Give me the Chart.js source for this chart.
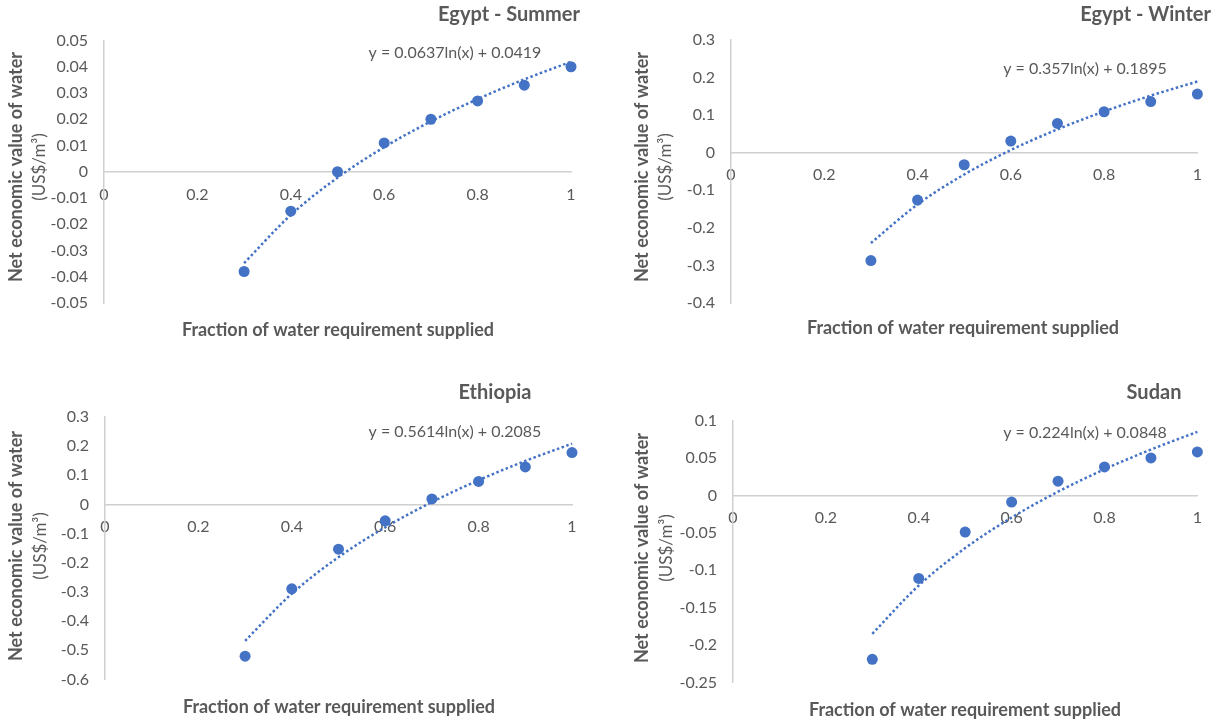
<!DOCTYPE html>
<html>
<head>
<meta charset="utf-8">
<script src="https://cdn.jsdelivr.net/npm/chart.js@4.4.1/dist/chart.umd.min.js"></script>
<style>
  html, body { margin: 0; padding: 0; background: #ffffff; }
  #wrap { position: relative; width: 1215px; height: 719px; overflow: hidden; }
  #wrap canvas { position: absolute; left: 0; top: 0; }
</style>
</head>
<body>
<div id="wrap">
  <canvas id="p0" width="1215" height="719"></canvas>
  <canvas id="p1" width="1215" height="719"></canvas>
  <canvas id="p2" width="1215" height="719"></canvas>
  <canvas id="p3" width="1215" height="719"></canvas>
</div>
<script>
// Fraction of the water requirement supplied (x values shared by all panels)
const fractions = [0.3, 0.4, 0.5, 0.6, 0.7, 0.8, 0.9, 1.0];

// Net economic value of water, US$/m3
const egyptSummer = [-0.038, -0.015, 0.000, 0.011, 0.020, 0.027, 0.033, 0.040];
const egyptWinter = [-0.287, -0.126, -0.032, 0.031, 0.078, 0.109, 0.136, 0.156];
const ethiopia    = [-0.520, -0.289, -0.153, -0.056, 0.019, 0.079, 0.129, 0.178];
const sudan       = [-0.219, -0.111, -0.049, -0.009, 0.019, 0.038, 0.050, 0.058];

// Logarithmic trend lines: y = slope * ln(x) + intercept
const trendSlope     = [0.0637, 0.357, 0.5614, 0.224];
const trendIntercept = [0.0419, 0.1895, 0.2085, 0.0848];

// Panel titles and y-axis tick ranges
const panelTitles = ['Egypt - Summer', 'Egypt - Winter', 'Ethiopia', 'Sudan'];
const yMin  = [-0.05, -0.4, -0.6, -0.25];
const yMax  = [0.05, 0.3, 0.3, 0.1];
const yStep = [0.01, 0.1, 0.1, 0.05];

// x-axis ticks
const xMin = 0, xMax = 1, xStep = 0.2;

const xTitle = 'Fraction of water requirement supplied';
const yTitleMain = 'Net economic value of water';
const yTitleUnit = '(US$/m\u00B3)';

const seriesValues = [egyptSummer, egyptWinter, ethiopia, sudan];

// Page geometry of each panel: plot area and label anchors
const layoutBoxes = [
  { L: 104, R: 571,   T: 40.5, B: 303,   title: [580, 15, 'right'],   eq: [455, 53],   xt: [338, 330], yt: [16, 40, 167] },
  { L: 731, R: 1198,  T: 40,   B: 303,   title: [1211, 15, 'right'],  eq: [1085, 69],  xt: [963, 328], yt: [642, 666, 167] },
  { L: 105, R: 572,   T: 417,  B: 679.5, title: [495, 393, 'center'], eq: [455, 432],  xt: [339, 707], yt: [16, 41, 546] },
  { L: 733, R: 1198.5,T: 420.5,B: 682.5, title: [1154, 393, 'center'],eq: [1085, 433], xt: [965, 710], yt: [642, 667, 548] }
];

const FONT = "Lato, 'Open Sans', 'Noto Sans', sans-serif";
const TEXT = '#595959';
const BLUE = '#4472C4';
const AXIS = '#d0d0d0';
const PAGE_W = 1215, PAGE_H = 719, Y_AXIS_W = 70;

function fmt(v) {
  const r = Math.round(v * 1000) / 1000;
  return (Object.is(r, -0) ? 0 : r).toString();
}

// Titles, equation and axis titles drawn around the plot area
const panelText = {
  id: 'panelText',
  afterDraw(chart, args, opts) {
    const i = opts.index;
    const box = layoutBoxes[i];
    const ctx = chart.ctx;
    ctx.save();
    ctx.fillStyle = TEXT;
    ctx.textBaseline = 'middle';

    ctx.font = 'bold 20px ' + FONT;
    ctx.textAlign = box.title[2];
    ctx.fillText(panelTitles[i], box.title[0], box.title[1]);

    ctx.font = '16px ' + FONT;
    ctx.textAlign = 'center';
    ctx.fillText('y = ' + trendSlope[i] + 'ln(x) + ' + trendIntercept[i], box.eq[0], box.eq[1]);

    ctx.font = 'bold 18px ' + FONT;
    ctx.fillText(xTitle, box.xt[0], box.xt[1]);

    ctx.save();
    ctx.translate(box.yt[0], box.yt[2]);
    ctx.rotate(-Math.PI / 2);
    ctx.fillText(yTitleMain, 0, 0);
    ctx.restore();

    ctx.save();
    ctx.translate(box.yt[1], box.yt[2]);
    ctx.rotate(-Math.PI / 2);
    ctx.font = '17px ' + FONT;
    ctx.fillText(yTitleUnit, 0, 0);
    ctx.restore();

    ctx.restore();
  }
};

layoutBoxes.forEach((box, i) => {
  const points = fractions.map((x, k) => ({ x: x, y: seriesValues[i][k] }));
  const trend = fractions.map(x => ({ x: x, y: trendSlope[i] * Math.log(x) + trendIntercept[i] }));

  new Chart(document.getElementById('p' + i), {
    type: 'scatter',
    data: {
      datasets: [
        {
          data: trend,
          showLine: true,
          borderColor: BLUE,
          borderWidth: 2.5,
          borderDash: [2.5, 2.5],
          pointRadius: 0,
          cubicInterpolationMode: 'monotone',
          clip: false,
          order: 2
        },
        {
          data: points,
          backgroundColor: BLUE,
          borderColor: BLUE,
          pointRadius: 5.5,
          pointBorderWidth: 0,
          clip: false,
          order: 1
        }
      ]
    },
    options: {
      responsive: false,
      animation: false,
      devicePixelRatio: 1,
      layout: {
        padding: { left: box.L - Y_AXIS_W, right: PAGE_W - box.R, top: box.T, bottom: PAGE_H - box.B }
      },
      plugins: {
        legend: { display: false },
        tooltip: { enabled: false },
        title: { display: false },
        panelText: { index: i }
      },
      scales: {
        x: {
          type: 'linear',
          position: { y: 0 },
          min: xMin, max: xMax,
          grid: { display: false, drawTicks: false },
          border: { display: true, color: AXIS, width: 1.5 },
          ticks: {
            stepSize: xStep,
            padding: 13,
            color: TEXT,
            font: { family: FONT, size: 16 },
            maxRotation: 0,
            callback: v => fmt(v)
          }
        },
        y: {
          type: 'linear',
          position: 'left',
          min: yMin[i], max: yMax[i],
          afterFit: s => { s.width = Y_AXIS_W; },
          grid: { display: false, drawTicks: false },
          border: { display: true, color: AXIS, width: 1.5 },
          ticks: {
            stepSize: yStep[i],
            padding: 16,
            color: TEXT,
            font: { family: FONT, size: 16 },
            callback: v => fmt(v)
          }
        }
      }
    },
    plugins: [panelText]
  });
});
</script>
</body>
</html>
